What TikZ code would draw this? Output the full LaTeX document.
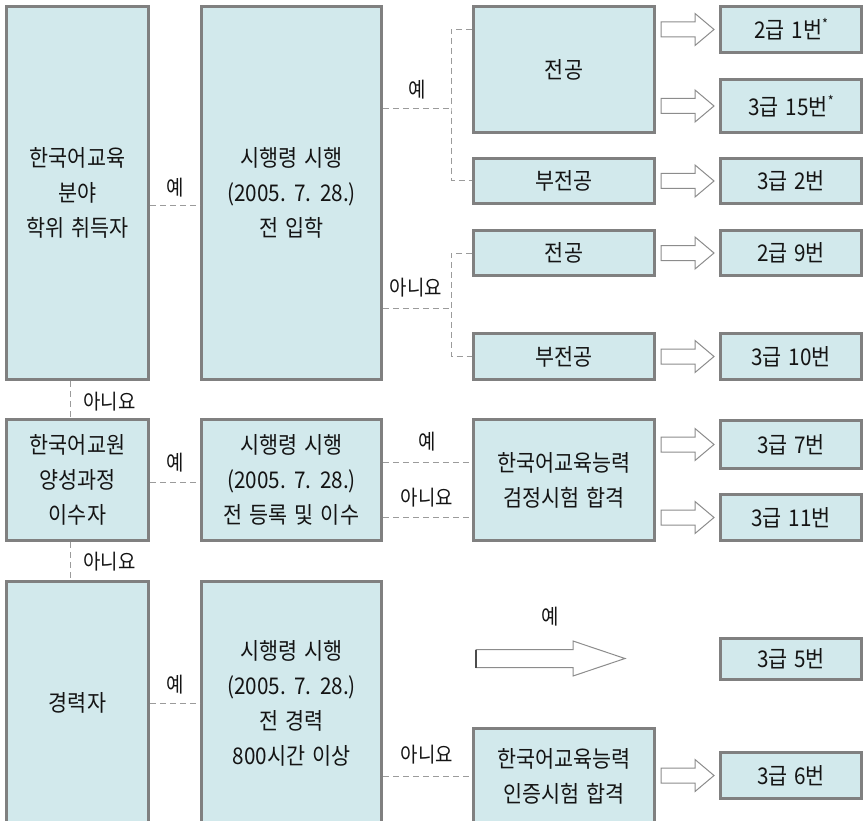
\documentclass[tikz,border=0pt]{standalone}
\usepackage{fontspec}
\setmainfont{Noto Sans CJK KR}[FakeStretch=0.9, WordSpace=1.5]
\usetikzlibrary{calc}
\definecolor{boxfill}{RGB}{210,233,236}
\definecolor{boxline}{RGB}{128,128,128}
\definecolor{dashc}{RGB}{155,155,155}
\definecolor{arrline}{RGB}{140,140,140}
\definecolor{txt}{RGB}{20,20,20}
\tikzset{
  box/.style={draw=boxline, line width=3pt, fill=boxfill, inner sep=0pt, align=center,
    font=\fontsize{23}{35}\selectfont, text=txt},
  dashln/.style={draw=dashc, line width=1pt, dash pattern=on 6pt off 4pt},
  lbl/.style={font=\fontsize{21}{22}\selectfont, inner sep=0pt, text=txt},
  barrow/.pic={\draw[draw=arrline, fill=white, line width=1pt]
    (0,-7.5) -- (34,-7.5) -- (34,-16) -- (53,0) -- (34,16) -- (34,7.5) -- (0,7.5) -- cycle;}
}
\newcommand\astr{\raisebox{0.4em}{\fontsize{14}{14}\selectfont *}}
\begin{document}
\begin{tikzpicture}[x=1pt,y=-1pt]
\useasboundingbox (0,0) rectangle (864,821);
\clip (0,0) rectangle (864,821);
% left column
\node[box, minimum width=142, minimum height=373] (A) at (77.5,193) {한국어교육\\분야\\학위 취득자};
\node[box, minimum width=142, minimum height=121] (C) at (77.5,480) {한국어교원\\양성과정\\이수자};
\node[box, minimum width=142, minimum height=243] (E) at (77.5,703) {경력자};
% second column
\node[box, minimum width=180, minimum height=373] (B) at (291.5,193) {시행령 시행\\(2005. 7. 28.)\\전 입학};
\node[box, minimum width=180, minimum height=121] (D) at (291.5,480) {시행령 시행\\(2005. 7. 28.)\\전 등록 및 이수};
\node[box, minimum width=180, minimum height=243] (F) at (291.5,703) {시행령 시행\\(2005. 7. 28.)\\전 경력\\800시간 이상};
% third column
\node[box, minimum width=181, minimum height=126] (M1) at (564,69.5) {전공};
\node[box, minimum width=181, minimum height=45] (M2) at (564,181) {부전공};
\node[box, minimum width=181, minimum height=45] (M3) at (564,253) {전공};
\node[box, minimum width=181, minimum height=46] (M4) at (564,356.5) {부전공};
\node[box, minimum width=181, minimum height=121] (G) at (564,480) {한국어교육능력\\검정시험 합격};
\node[box, minimum width=181, minimum height=95] (H) at (564,776) {한국어교육능력\\인증시험 합격};
% right column
\node[box, minimum width=141, minimum height=46] (R1) at (791,29.5) {2급 1번\astr};
\node[box, minimum width=141, minimum height=53] (R2) at (791,106) {3급 15번\astr};
\node[box, minimum width=141, minimum height=45] (R3) at (791,181) {3급 2번};
\node[box, minimum width=141, minimum height=45] (R4) at (791,253) {2급 9번};
\node[box, minimum width=141, minimum height=46] (R5) at (791,356.5) {3급 10번};
\node[box, minimum width=141, minimum height=48] (R6) at (791,444.5) {3급 7번};
\node[box, minimum width=141, minimum height=46] (R7) at (791,517.5) {3급 11번};
\node[box, minimum width=141, minimum height=41] (R8) at (791,659) {3급 5번};
\node[box, minimum width=141, minimum height=46] (R9) at (791,775.5) {3급 6번};
% dashed connectors
\draw[dashln] ([yshift=-12pt]A.east) -- ([yshift=-12pt]B.west);
\draw[dashln] ([xshift=-7.5pt]A.south) -- ([xshift=-7.5pt]C.north);
\draw[dashln] ([yshift=-2pt]C.east) -- ([yshift=-2pt]D.west);
\draw[dashln] ([xshift=-7.5pt]C.south) -- ([xshift=-7.5pt]E.north);
\draw[dashln] (E.east) -- (F.west);
\coordinate (j1) at (451,109);
\coordinate (j2) at (451,308);
\draw[dashln] (B.east |- j1) -- (j1);
\draw[dashln] (M1.west |- R1.west) -| (j1) |- (M2.west);
\draw[dashln] (B.east |- j2) -- (j2);
\draw[dashln] (M3.west) -| (j2) |- (M4.west);
\draw[dashln] ([yshift=18pt]D.east) -- ([yshift=18pt]G.west);
\draw[dashln] ([yshift=-37pt]D.east) -- ([yshift=-37pt]G.west);
\draw[dashln] (F.east |- H.west) -- (H.west);
% labels
\node[lbl] (l1) at (175,188) {예};
\node[lbl] (l2) at (109.5,402) {아니요};
\node[lbl] (l3) at (175,463) {예};
\node[lbl] (l4) at (109.5,562) {아니요};
\node[lbl] (l5) at (175,685) {예};
\node[lbl] (l6) at (417,90) {예};
\node[lbl] (l7) at (416,288) {아니요};
\node[lbl] (l8) at (427,442) {예};
\node[lbl] (l9) at (427,498) {아니요};
\node[lbl] (l10) at (427,755) {아니요};
\node[lbl] (l11) at (550,617) {예};
% block arrows
\pic at ($(M1.east |- R1.west)+(5,0)$) {barrow};
\pic at ($(M1.east |- R2.west)+(5,0)$) {barrow};
\pic at ($(M2.east)+(5,0)$) {barrow};
\pic at ($(M3.east)+(5,0)$) {barrow};
\pic at ($(M4.east)+(5,0)$) {barrow};
\pic at ($(G.east |- R6.west)+(5,0)$) {barrow};
\pic at ($(G.east |- R7.west)+(5,0)$) {barrow};
\pic at ($(H.east |- R9.west)+(5,0)$) {barrow};
% big arrow
\coordinate (ba) at (476,658.5);
\draw[draw=arrline, fill=white, line width=1pt]
  ($(ba)+(0,-9)$) -- ($(ba)+(97,-9)$) -- ($(ba)+(97,-17.5)$) -- ($(ba)+(149,0)$)
  -- ($(ba)+(97,17.5)$) -- ($(ba)+(97,9)$) -- ($(ba)+(0,9)$) -- cycle;
\draw[draw=black!70, line width=2pt] ($(ba)+(0,-9)$) -- ($(ba)+(0,9)$);
\end{tikzpicture}
\end{document}
